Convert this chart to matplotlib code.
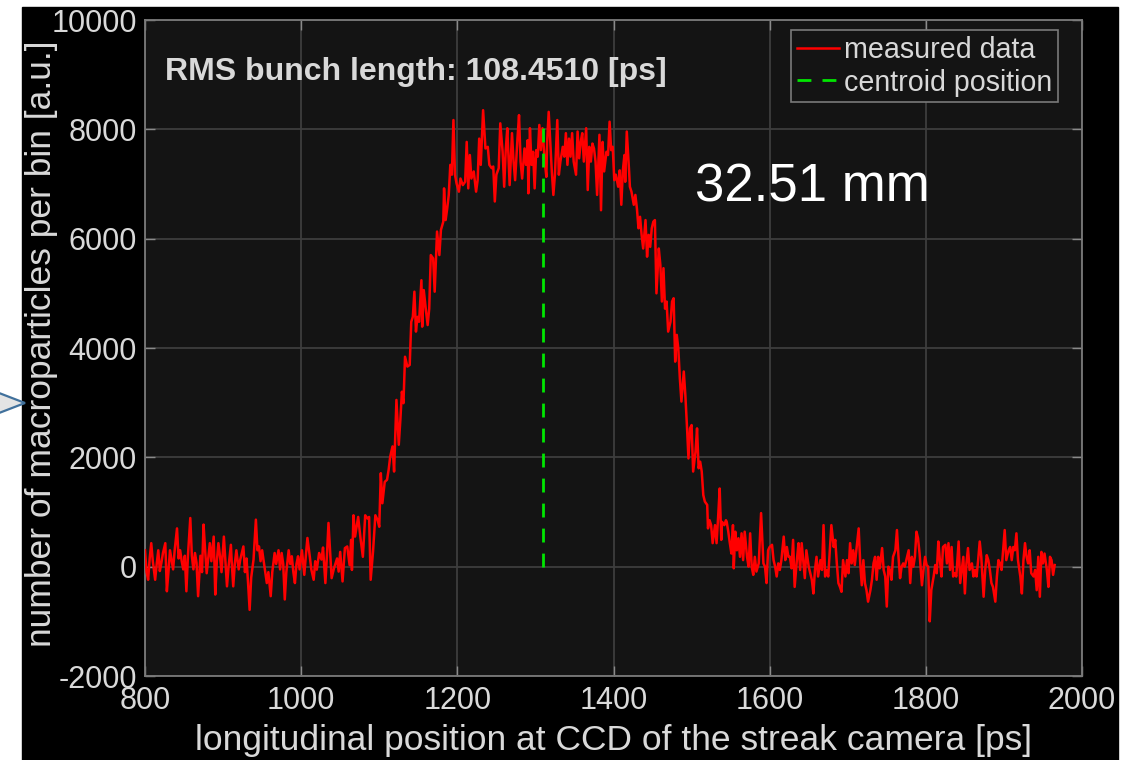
import numpy as np
import matplotlib
matplotlib.use("Agg")
import matplotlib.pyplot as plt
from matplotlib.patches import Rectangle, Polygon

plt.rcParams['font.family'] = ['Liberation Sans', 'DejaVu Sans']
plt.rcParams['axes.unicode_minus'] = False

# measured profile in pieces (position [ps], counts)
pos_left = [800, 802, 804, 806, 808, 810, 813, 815, 817, 819,
            821, 823, 826, 828, 830, 832, 834, 836, 838, 841,
            843, 845, 847, 849, 851, 853, 855, 858, 860, 862,
            864, 866, 868, 871, 873, 875, 877, 879, 881, 883,
            885, 888, 890, 892, 894, 896, 898, 901, 903, 905,
            907, 910, 911, 913, 915, 917, 920, 922, 924, 926,
            928, 930, 932, 934, 936, 939, 942, 944, 946, 948,
            950, 953, 956, 958, 961, 963, 966, 968, 971, 973,
            975, 977, 979, 981, 984, 986, 988, 990, 992, 994,
            996, 998, 1001, 1004, 1006, 1008, 1011, 1013, 1016, 1018,
            1020, 1023, 1026, 1028, 1031, 1033, 1035]
cnt_left = [300, -100, -240, 150, 430, 100, -240, 50, 300, -80,
            70, 250, 430, -450, -100, 300, 120, -50, 300, 700,
            150, 300, 100, -50, 200, -450, 200, 890, 200, -50,
            250, 70, -540, 200, -100, 770, 300, -120, 150, 430,
            100, 550, -510, 100, 430, 200, -100, 550, 100, -360,
            0, 400, 100, -360, 50, 300, -50, 130, 250, 370,
            -100, 150, -300, -790, -200, 130, 860, 300, 370, 100,
            300, 0, -300, -100, -540, -100, 250, 50, 300, -50,
            250, 50, -600, -100, 300, 50, 190, -100, -300, 50,
            190, -50, 300, -150, 200, 525, 190, -50, -240, 100,
            -55, 250, 130, 350, -300, 200, 800]

pos_rise = [1039, 1042, 1046, 1048, 1050, 1053, 1056, 1059, 1062, 1064,
            1065, 1067, 1069, 1073, 1076, 1079, 1082, 1085, 1087, 1089,
            1092, 1095, 1098, 1100, 1102, 1104, 1107, 1110, 1112, 1114,
            1117, 1119, 1122, 1125, 1127, 1129, 1131, 1133, 1136, 1139,
            1141, 1143, 1145, 1147, 1149, 1151, 1154, 1155, 1157, 1160,
            1162, 1164, 1166, 1169, 1171, 1173, 1174, 1177, 1179, 1182,
            1183, 1185, 1187, 1189, 1191, 1193, 1195, 1197, 1199, 1202,
            1204, 1207, 1210, 1212, 1214, 1216, 1218, 1221, 1224, 1226,
            1228, 1230, 1233, 1236, 1239, 1241, 1244, 1246, 1248, 1250,
            1253, 1255, 1258, 1260, 1262, 1264, 1267, 1270, 1272, 1274,
            1277]
cnt_rise = [-210, -30, 150, -90, 270, -270, 340, 370, 30, 490,
            -60, 940, 550, 910, 520, 180, 940, 880, 910, -240,
            270, 940, 850, 730, 1710, 1160, 1550, 1590, 1770, 2010,
            2200, 1740, 3050, 2230, 2680, 3200, 2990, 3840, 3660, 3690,
            4480, 4570, 5030, 4300, 4570, 4480, 5240, 4390, 5060, 4660,
            4420, 4720, 5700, 5640, 5030, 5760, 6130, 5700, 6160, 6310,
            6920, 6340, 6550, 6800, 7350, 7170, 8170, 7170, 7010, 6860,
            7100, 6980, 7040, 7770, 6920, 7530, 7100, 7230, 6860, 7070,
            7830, 7350, 8350, 7650, 7680, 7350, 7290, 7320, 6680, 7170,
            7290, 8110, 7590, 6950, 7620, 8020, 6980, 7930, 7410, 7070,
            7830]

pos_fall = [1279, 1281, 1283, 1286, 1288, 1290, 1291, 1293, 1295, 1297,
            1299, 1301, 1303, 1305, 1307, 1309, 1312, 1314, 1315, 1317,
            1319, 1321, 1323, 1325, 1328, 1330, 1332, 1335, 1337, 1339,
            1341, 1343, 1345, 1347, 1349, 1352, 1354, 1356, 1358, 1360,
            1362, 1365, 1367, 1369, 1371, 1373, 1375, 1377, 1379, 1382,
            1384, 1386, 1388, 1391, 1393, 1395, 1397, 1399, 1401, 1403,
            1406, 1408, 1410, 1412, 1414, 1415, 1417, 1420, 1421, 1423,
            1426, 1428, 1430, 1432, 1434, 1436, 1438, 1441, 1443, 1445,
            1447, 1449, 1451, 1453, 1455, 1458, 1460, 1462, 1464, 1466,
            1468, 1470, 1473, 1475, 1477, 1479, 1481, 1483, 1485, 1487,
            1490, 1492, 1494, 1496, 1498, 1500, 1502, 1505, 1507, 1509,
            1511, 1513, 1515, 1517, 1520, 1521, 1523, 1525, 1527]
cnt_fall = [8260, 7410, 7100, 7650, 7350, 7800, 6830, 8020, 7350, 7590,
            6920, 7620, 7500, 8080, 7620, 8020, 7410, 7130, 7770, 8320,
            7770, 7230, 6800, 7170, 8170, 7170, 7410, 7680, 7500, 7930,
            7350, 7830, 7500, 7930, 7410, 7170, 7960, 7470, 7770, 7930,
            7410, 8020, 6890, 7680, 7410, 7740, 7650, 7410, 6800, 7900,
            6520, 7770, 7230, 7590, 7530, 8140, 7620, 7680, 7070, 7170,
            6950, 7250, 6620, 7250, 7530, 7040, 7960, 7230, 6950, 6860,
            6620, 6800, 6550, 6190, 6400, 6070, 5820, 6340, 5670, 6070,
            5850, 6190, 6310, 6340, 5000, 5820, 5520, 4850, 5460, 4720,
            4850, 4300, 4480, 4850, 4910, 3750, 4240, 3990, 3440, 3020,
            3570, 3140, 2590, 1980, 2530, 2590, 1740, 2100, 2530, 1800,
            1920, 1740, 1310, 1190, 1130, 700, 850, 760, 430]

pos_tail1 = [1530, 1532, 1534, 1536, 1538, 1539, 1542, 1544, 1545, 1547,
             1549, 1551, 1553, 1554, 1556, 1558, 1560, 1562, 1564, 1566,
             1568, 1571, 1573, 1575, 1577, 1579, 1581, 1583, 1586, 1589,
             1592, 1594, 1596, 1598, 1600, 1603, 1605, 1607, 1609, 1611,
             1613, 1615, 1618, 1620, 1622, 1624, 1626, 1628, 1630, 1632,
             1635, 1637, 1639, 1641, 1643, 1645, 1647, 1650, 1652, 1654,
             1656, 1658, 1660, 1662, 1665, 1667, 1669, 1671, 1673, 1675,
             1677, 1679, 1682, 1684, 1686, 1688, 1690, 1692, 1694, 1697,
             1699, 1701, 1703, 1705, 1707, 1709, 1711, 1714, 1716, 1718,
             1720, 1722, 1724, 1726, 1729, 1731, 1733, 1735, 1737, 1739,
             1741, 1744, 1746, 1748, 1750, 1752, 1754, 1756, 1758, 1761,
             1763, 1765, 1767, 1769, 1771]
cnt_tail1 = [760, 430, 910, 1430, 490, 820, 760, 850, 820, 640,
             430, 240, 760, -30, 640, 300, 520, 180, 610, 120,
             640, 180, 0, 610, 0, -150, 180, -90, 60, 980,
             60, 0, -300, 300, 360, 400, 120, 0, -180, 60,
             -60, 120, 550, 120, 360, 180, 180, -30, 490, -370,
             150, 430, -60, 430, 120, -210, 300, 0, -120, -240,
             -490, -60, 180, -180, 120, -60, 760, -180, -60, -180,
             300, 760, 360, 490, 60, -300, -370, -460, 120, -180,
             120, -120, 430, 60, 300, 30, 300, 700, 60, -340,
             120, -300, -430, -640, -430, -240, 60, 180, -240, 180,
             -30, 340, -60, -180, -730, 0, -60, -240, 180, 300,
             670, 180, -210, 0, 60]

pos_tail2 = [1773, 1775, 1778, 1780, 1782, 1784, 1786, 1788, 1790, 1792,
             1795, 1797, 1799, 1801, 1803, 1805, 1807, 1810, 1812, 1814,
             1816, 1818, 1820, 1822, 1825, 1827, 1829, 1831, 1833, 1835,
             1837, 1839, 1842, 1844, 1846, 1848, 1850, 1852, 1854, 1856,
             1859, 1861, 1863, 1865, 1867, 1869, 1871, 1874, 1876, 1878,
             1880, 1882, 1884, 1886, 1889, 1891, 1893, 1895, 1897, 1899,
             1901, 1903, 1906, 1908, 1910, 1912, 1914, 1916, 1918, 1921,
             1923, 1925, 1927, 1929, 1931, 1933, 1935, 1938, 1940, 1942,
             1944, 1946, 1948, 1950, 1952, 1955, 1957, 1959, 1961, 1963,
             1965]
cnt_tail2 = [0, 120, 300, -300, 180, 0, 180, 640, 520, 240,
             -340, -60, 180, 30, 0, -1000, -430, -180, 30, -120,
             460, 120, -180, 360, 400, 60, 430, -60, 360, -180,
             -120, -180, 460, -300, -60, 180, -490, 60, 340, -60,
             60, -180, -60, -180, 120, 460, 180, -550, -60, 210,
             120, -60, -300, -370, -640, -180, 120, 60, -60, 300,
             670, 120, 300, 360, 120, 360, 300, 610, 120, -180,
             -490, 120, 430, 180, 60, 300, -120, -180, -60, -430,
             180, -550, 270, 60, 240, -60, -370, 180, 120, -150,
             30]

centroid_ps = 1310
centroid_top = 8230
rms_text = 'RMS bunch length: 108.4510 [ps]'
length_text = '32.51 mm'

pos = np.array(pos_left + pos_rise + pos_fall + pos_tail1 + pos_tail2)
cnt = np.array(cnt_left + cnt_rise + cnt_fall + cnt_tail1 + cnt_tail2)

fg = '#d9d9d9'
fig = plt.figure(figsize=(11.35, 7.6), dpi=100, facecolor='white')
fig.patches.append(Rectangle((22 / 1135, 0), 1096 / 1135, 1 - 7 / 760,
                             transform=fig.transFigure, color='black', zorder=-10))
fig.patches.append(Polygon([(-0.01, 1 - 389 / 760), (25 / 1135, 1 - 403 / 760), (-0.01, 1 - 417 / 760)],
                           closed=True, transform=fig.transFigure,
                           facecolor='#e4e4e4', edgecolor='#41719c', lw=1.6, zorder=-5))

ax = fig.add_axes([145 / 1135, 1 - 676 / 760, 937 / 1135, 656 / 760])
ax.set_facecolor('#141414')

ax.plot(pos, cnt, color='#ff0000', lw=1.8, label='measured data', zorder=3)
ax.plot([centroid_ps, centroid_ps], [0, centroid_top], color='#00e600', lw=2,
        ls=(0, (5, 4)), label='centroid position', zorder=4)

ax.set_xlim(800, 2000)
ax.set_ylim(-2000, 10000)
ax.set_xticks(np.arange(800, 2001, 200))
ax.set_yticks(np.arange(-2000, 10001, 2000))
ax.grid(True, color='#3e3e3e', lw=1.3)
ax.set_axisbelow(True)
ax.tick_params(direction='in', length=7, width=1, color='#8a8a8a',
               labelsize=22, labelcolor=fg, top=True, right=True)
ax.tick_params(axis='x', pad=7)
ax.tick_params(axis='y', pad=6)
for sp in ax.spines.values():
    sp.set_color('#7a7a7a')
    sp.set_linewidth(1.3)

ax.set_xlabel('longitudinal position at CCD of the streak camera [ps]',
              fontsize=25.5, color=fg, labelpad=6)
ax.set_ylabel('number of macroparticles per bin [a.u.]',
              fontsize=25.5, color=fg)
ax.yaxis.set_label_coords(-0.093, 0.506)

ax.text(0.021, 0.921, rms_text, transform=ax.transAxes, fontsize=23,
        fontweight='bold', color=fg, va='center', ha='left')
ax.text(1504, 6945, length_text, fontsize=38, color='white', va='center', ha='left')

leg = ax.legend(loc='upper right', bbox_to_anchor=(0.974, 0.984), borderaxespad=0,
                fontsize=20.6, handlelength=1.45, handletextpad=0.18,
                labelspacing=0.15, borderpad=0.2, frameon=True, fancybox=False)
leg.get_frame().set_facecolor('#141414')
leg.get_frame().set_edgecolor('#7a7a7a')
leg.get_frame().set_linewidth(1.2)
leg.get_frame().set_alpha(1)
for t in leg.get_texts():
    t.set_color(fg)

fig.savefig('out.png', dpi=100, facecolor=fig.get_facecolor())
